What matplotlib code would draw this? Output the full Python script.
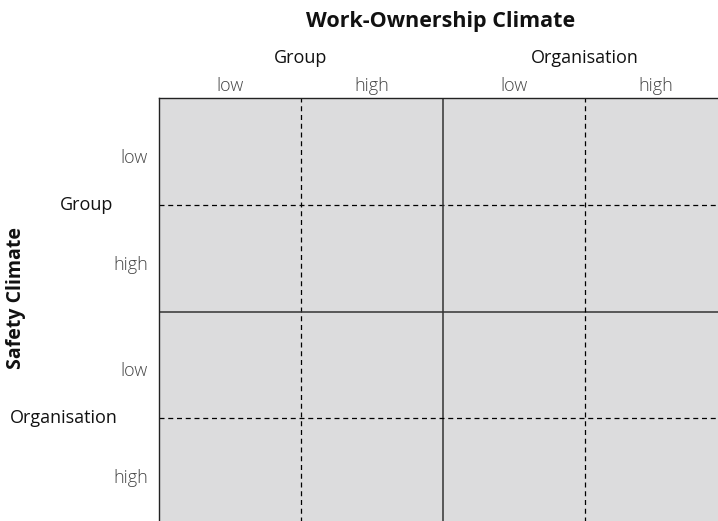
import numpy as np
import matplotlib.pyplot as plt
from matplotlib.colors import ListedColormap
from matplotlib.transforms import blended_transform_factory

# ── Categories ────────────────────────────────────────────────────────────────
col_title = "Work-Ownership Climate"
row_title = "Safety Climate"
col_groups = ["Group", "Organisation"]
row_groups = ["Group", "Organisation"]
levels = ["low", "high"]

plt.rcParams["font.family"] = ["Open Sans", "DejaVu Sans"]

n = len(col_groups) * len(levels)
cells = np.zeros((n, n))

W, H = 718, 521
fig = plt.figure(figsize=(W / 100, H / 100), dpi=100)
# grid runs from x=159..727 px and y=98..525 px (clipped by the figure edge)
ax = fig.add_axes([159 / W, 1 - 525 / H, 568 / W, 427 / H])
ax.pcolormesh(np.arange(n + 1), np.arange(n + 1), cells,
              cmap=ListedColormap(["#dcdcdd"]), shading="flat")
ax.set_xlim(0, n)
ax.set_ylim(n, 0)
ax.set_xticks([])
ax.set_yticks([])
for s in ax.spines.values():
    s.set_color("#222222")
    s.set_linewidth(1.0)

# dashed lines within groups, solid line between groups
for k in range(1, n):
    if k % len(levels) == 0:
        ax.axvline(k, color="#333333", lw=1.1)
        ax.axhline(k, color="#333333", lw=1.1)
    else:
        ax.axvline(k, color="black", lw=0.9, ls=(0, (4, 3)))
        ax.axhline(k, color="black", lw=0.9, ls=(0, (4, 3)))

def fy(px):
    return 1 - px / H

def fx(px):
    return px / W

# ── Column labels ─────────────────────────────────────────────────────────────
top = blended_transform_factory(ax.transData, fig.transFigure)
fig.text(fx(441), fy(21), col_title, ha="center", va="center",
         fontsize=15.5, fontweight="bold", color="#111111")
for g, name in enumerate(col_groups):
    ax.text(g * 2 + 1, fy(58), name, ha="center", va="center", transform=top,
            fontsize=13, color="#111111")
    for j, lv in enumerate(levels):
        ax.text(g * 2 + j + 0.5, fy(86), lv, ha="center", va="center",
                transform=top, fontsize=13, fontweight="light",
                color="#444444")

# ── Row labels ────────────────────────────────────────────────────────────────
left = blended_transform_factory(fig.transFigure, ax.transData)
fig.text(fx(16), fy(298), row_title, rotation=90, ha="center", va="center",
         fontsize=14, fontweight="bold", color="#111111")
row_group_x = [113, 118]
for g, name in enumerate(row_groups):
    ax.text(fx(row_group_x[g]), g * 2 + 1.0, name, ha="right", va="center",
            transform=left, fontsize=13, color="#111111")
    for j, lv in enumerate(levels):
        ax.text(fx(148), g * 2 + j + 0.56, lv, ha="right", va="center",
                transform=left, fontsize=13, fontweight="light",
                color="#444444")

plt.savefig("out.png", dpi=100)
